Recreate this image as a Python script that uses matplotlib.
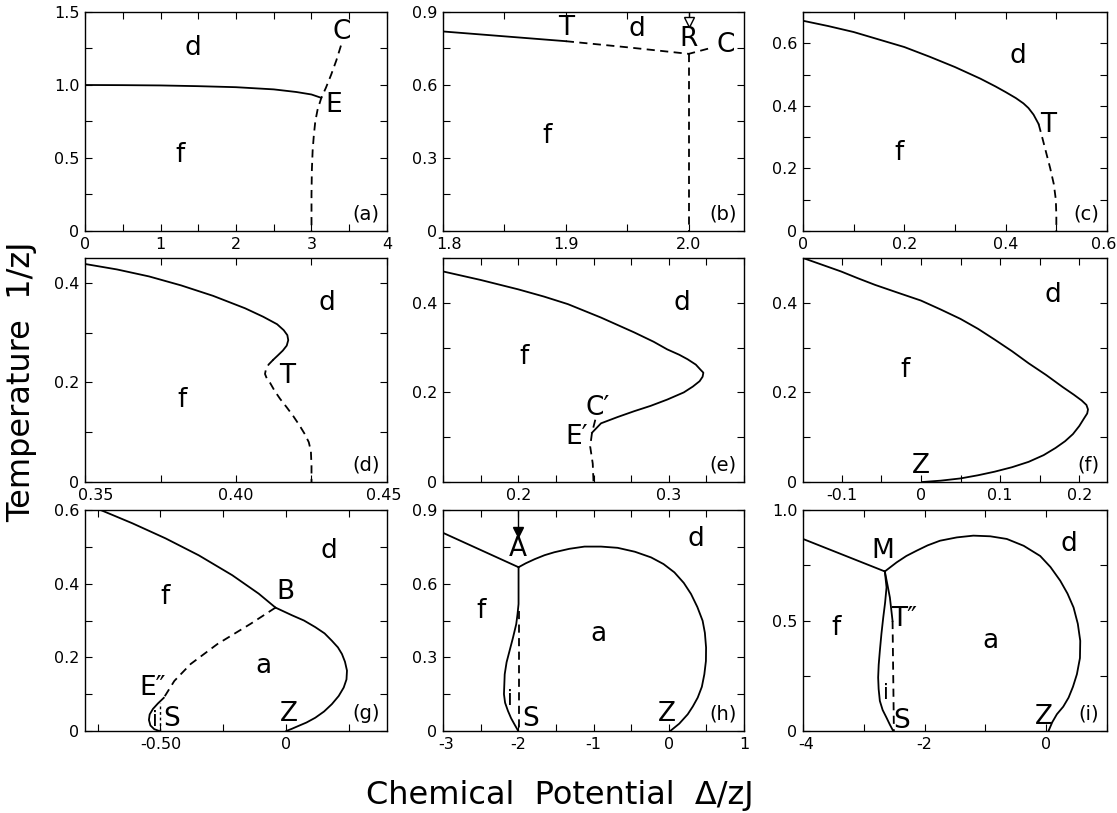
import matplotlib
matplotlib.use('Agg')
import matplotlib.pyplot as plt
import matplotlib.transforms as mtransforms
from matplotlib.ticker import FixedLocator, FixedFormatter

# ---------------- data ----------------
# panel (a)
A_XTICKS = [0, 0.5, 1, 1.5, 2, 2.5, 3, 3.5, 4]
A_XLABELS = ['0', '', '1', '', '2', '', '3', '', '4']
A_YTICKS = [0, 0.25, 0.5, 0.75, 1.0, 1.25, 1.5]
A_YLABELS = ['0', '', '0.5', '', '1.0', '', '1.5']
a_solid_x = [0, 0.5, 1.0, 1.5, 2.0, 2.5, 2.8, 3.0, 3.13]
a_solid_y = [1.0, 0.999, 0.997, 0.992, 0.985, 0.97, 0.952, 0.935, 0.912]
a_dash_x = [3.39, 3.33, 3.26, 3.19, 3.13, 3.08, 3.05, 3.03, 3.015, 3.005, 3.0, 3.0]
a_dash_y = [1.27, 1.17, 1.07, 0.98, 0.912, 0.83, 0.75, 0.65, 0.55, 0.42, 0.25, 0.0]
a_text = [('d', 1.43, 1.25), ('f', 1.26, 0.52), ('C', 3.4, 1.36), ('E', 3.3, 0.86)]

# panel (b)
B_XTICKS = [1.8, 1.85, 1.9, 1.95, 2.0]
B_XLABELS = ['1.8', '', '1.9', '', '2.0']
B_YTICKS = [0, 0.15, 0.3, 0.45, 0.6, 0.75, 0.9]
B_YLABELS = ['0', '', '0.3', '', '0.6', '', '0.9']
b_solid_x = [1.8, 1.85, 1.9]
b_solid_y = [0.82, 0.80, 0.78]
b_dash_x = [1.9, 1.95, 2.0, 2.02]
b_dash_y = [0.78, 0.755, 0.728, 0.755]
b_vert_x = [2.0, 2.0]
b_vert_y = [0.728, 0.0]
b_arrow = (2.0, 0.857)
b_text = [('T', 1.9, 0.835), ('d', 1.958, 0.83), ('R', 2.0, 0.79), ('C', 2.03, 0.765), ('f', 1.885, 0.39)]

# panel (c)
C_XTICKS = [0, 0.1, 0.2, 0.3, 0.4, 0.5, 0.6]
C_XLABELS = ['0', '', '0.2', '', '0.4', '', '0.6']
C_YTICKS = [0, 0.1, 0.2, 0.3, 0.4, 0.5, 0.6, 0.7]
C_YLABELS = ['0', '', '0.2', '', '0.4', '', '0.6', '']
c_solid_x = [0, 0.05, 0.1, 0.15, 0.2, 0.25, 0.3, 0.35, 0.38, 0.4, 0.42, 0.435, 0.445, 0.455, 0.465]
c_solid_y = [0.672, 0.655, 0.636, 0.612, 0.588, 0.557, 0.524, 0.487, 0.462, 0.444, 0.425, 0.408, 0.393, 0.372, 0.342]
c_dash_x = [0.465, 0.472, 0.48, 0.488, 0.495, 0.499, 0.5, 0.5]
c_dash_y = [0.342, 0.30, 0.25, 0.20, 0.15, 0.10, 0.05, 0.0]
c_text = [('d', 0.425, 0.56), ('T', 0.483, 0.34), ('f', 0.19, 0.25)]

# panel (d)
D_XTICKS = [0.35, 0.375, 0.4, 0.425, 0.45]
D_XLABELS = ['0.35', '', '0.40', '', '0.45']
D_YTICKS = [0, 0.1, 0.2, 0.3, 0.4]
D_YLABELS = ['0', '', '0.2', '', '0.4']
d_solid_x = [0.35, 0.3606, 0.3712, 0.3818, 0.3924, 0.403, 0.409, 0.4136, 0.4158, 0.417, 0.4173, 0.4168, 0.4155, 0.4138, 0.4124]
d_solid_y = [0.438, 0.427, 0.413, 0.395, 0.374, 0.349, 0.332, 0.317, 0.305, 0.295, 0.285, 0.274, 0.264, 0.254, 0.246]
d_dash_x = [0.4124, 0.4108, 0.4099, 0.4096, 0.4102, 0.4113, 0.4128, 0.4146, 0.4168, 0.419, 0.421, 0.4228, 0.4241, 0.4248, 0.425, 0.425]
d_dash_y = [0.246, 0.236, 0.226, 0.217, 0.208, 0.199, 0.183, 0.167, 0.15, 0.132, 0.114, 0.096, 0.08, 0.062, 0.032, 0.0]
d_text = [('d', 0.43, 0.36), ('T', 0.4168, 0.213), ('f', 0.382, 0.164)]

# panel (e)
E_XTICKS = [0.15, 0.175, 0.2, 0.225, 0.25, 0.275, 0.3, 0.325, 0.35]
E_XLABELS = ['', '', '0.2', '', '', '', '0.3', '', '']
E_YTICKS = [0, 0.1, 0.2, 0.3, 0.4, 0.5]
E_YLABELS = ['0', '', '0.2', '', '0.4', '']
e_solid_x = [0.15, 0.175, 0.2, 0.217, 0.233, 0.255, 0.277, 0.29, 0.299, 0.307, 0.3125, 0.318, 0.321, 0.323,
             0.3225, 0.3205, 0.316, 0.31, 0.299, 0.288, 0.277, 0.266, 0.255, 0.249]
e_solid_y = [0.47, 0.451, 0.43, 0.414, 0.397, 0.367, 0.334, 0.313, 0.296, 0.284, 0.274, 0.262, 0.251, 0.244,
             0.235, 0.225, 0.213, 0.2, 0.184, 0.17, 0.158, 0.145, 0.131, 0.11]
e_dash_x = [0.2512, 0.249, 0.2478, 0.2495, 0.25]
e_dash_y = [0.139, 0.11, 0.079, 0.041, 0.0]
e_text = [('C\u2032', 0.2525, 0.165), ('E\u2032', 0.239, 0.1), ('f', 0.204, 0.28), ('d', 0.309, 0.4)]

# panel (f)
F_XTICKS = [-0.1, -0.05, 0, 0.05, 0.1, 0.15, 0.2]
F_XLABELS = ['-0.1', '', '0', '', '0.1', '', '0.2']
F_YTICKS = [0, 0.1, 0.2, 0.3, 0.4, 0.5]
F_YLABELS = ['0', '', '0.2', '', '0.4', '']
f_solid_x = [-0.149, -0.125, -0.101, -0.08, -0.058, -0.03, 0.0, 0.025, 0.05, 0.072, 0.093, 0.115, 0.136, 0.158,
             0.179, 0.193, 0.203, 0.209, 0.211, 0.21, 0.206, 0.2, 0.192, 0.182, 0.17, 0.155, 0.136, 0.115,
             0.093, 0.072, 0.05, 0.025, 0.002]
f_solid_y = [0.5, 0.485, 0.47, 0.455, 0.44, 0.423, 0.405, 0.385, 0.364, 0.342, 0.318, 0.292, 0.265, 0.239,
             0.212, 0.195, 0.182, 0.172, 0.162, 0.153, 0.142, 0.125, 0.107, 0.091, 0.076, 0.06, 0.045, 0.033,
             0.023, 0.015, 0.008, 0.003, 0.0]
f_text = [('Z', 0.0, 0.036), ('f', -0.02, 0.25), ('d', 0.166, 0.417)]

# panel (g)
G_XTICKS = [-0.75, -0.5, -0.25, 0, 0.25]
G_XLABELS = ['', '-0.50', '', '0', '']
G_YTICKS = [0, 0.1, 0.2, 0.3, 0.4, 0.5, 0.6]
G_YLABELS = ['0', '', '0.2', '', '0.4', '', '0.6']
g_top_x = [-0.738, -0.612, -0.48, -0.348, -0.215, -0.11, -0.043]
g_top_y = [0.6, 0.564, 0.523, 0.477, 0.423, 0.373, 0.335]
g_right_x = [-0.043, 0.023, 0.07, 0.115, 0.152, 0.181, 0.205, 0.221, 0.233, 0.241, 0.239, 0.228, 0.208, 0.181,
             0.15, 0.115, 0.08, 0.049, 0.022, 0.0]
g_right_y = [0.335, 0.314, 0.3, 0.282, 0.265, 0.245, 0.227, 0.209, 0.188, 0.164, 0.14, 0.118, 0.095, 0.073,
             0.053, 0.036, 0.023, 0.014, 0.006, 0.0]
g_dash_x = [-0.043, -0.142, -0.274, -0.38, -0.445, -0.487]
g_dash_y = [0.335, 0.291, 0.236, 0.182, 0.136, 0.09]
g_loop_x = [-0.487, -0.51, -0.53, -0.543, -0.546, -0.54, -0.525, -0.505]
g_loop_y = [0.09, 0.075, 0.06, 0.045, 0.03, 0.015, 0.005, 0.0]
g_vert_x = [-0.5, -0.5]
g_vert_y = [0.0, 0.075]
g_text = [('d', 0.168, 0.49), ('B', -0.005, 0.377), ('f', -0.481, 0.364), ('a', -0.09, 0.177),
          ('E\u2033', -0.53, 0.118), ('S', -0.455, 0.032), ('Z', 0.01, 0.047)]
g_small = [('i', -0.522, 0.03)]

# panel (h)
H_XTICKS = [-3, -2.5, -2, -1.5, -1, -0.5, 0, 0.5, 1]
H_XLABELS = ['-3', '', '-2', '', '-1', '', '0', '', '1']
H_YTICKS = [0, 0.15, 0.3, 0.45, 0.6, 0.75, 0.9]
H_YLABELS = ['0', '', '0.3', '', '0.6', '', '0.9']
h_left_x = [-3.0, -1.996]
h_left_y = [0.807, 0.667]
h_right_x = [-1.996, -1.9, -1.78, -1.65, -1.52, -1.32, -1.12, -0.9, -0.68, -0.45, -0.235, -0.07, 0.075, 0.2,
             0.296, 0.38, 0.45, 0.48, 0.496, 0.494, 0.473, 0.44, 0.385, 0.32, 0.252, 0.14, 0.02]
h_right_y = [0.667, 0.683, 0.70, 0.716, 0.728, 0.742, 0.751, 0.751, 0.746, 0.73, 0.707, 0.68, 0.646, 0.603,
             0.558, 0.505, 0.449, 0.4, 0.34, 0.285, 0.231, 0.18, 0.136, 0.1, 0.068, 0.03, 0.0]
h_i_x = [-1.996, -1.996, -2.01, -2.027, -2.07, -2.115, -2.155, -2.18, -2.19, -2.175, -2.137, -2.095, -2.05, -2.0]
h_i_y = [0.667, 0.517, 0.475, 0.435, 0.38, 0.327, 0.28, 0.231, 0.15, 0.115, 0.082, 0.052, 0.027, 0.0]
h_vert_x = [-1.996, -1.996]
h_vert_y = [0.49, 0.0]
h_arrow = (-2.0, 0.81)
h_text = [('A', -2.0, 0.741), ('d', 0.363, 0.782), ('f', -2.49, 0.49), ('a', -0.94, 0.395),
          ('S', -1.83, 0.048), ('Z', -0.02, 0.068)]
h_small = [('i', -2.115, 0.129)]

# panel (i)
I_XTICKS = [-4, -3, -2, -1, 0, 1]
I_XLABELS = ['-4', '', '-2', '', '0', '']
I_YTICKS = [0, 0.25, 0.5, 0.75, 1.0]
I_YLABELS = ['0', '', '0.5', '', '1.0']
i_left_x = [-4.0, -2.654]
i_left_y = [0.869, 0.722]
i_right_x = [-2.654, -2.46, -2.3, -2.13, -1.95, -1.747, -1.47, -1.198, -0.92, -0.648, -0.37, -0.099, 0.07,
             0.231, 0.35, 0.45, 0.52, 0.56, 0.555, 0.505, 0.44, 0.368, 0.28, 0.176, 0.1, 0.038]
i_right_y = [0.722, 0.763, 0.792, 0.816, 0.84, 0.861, 0.876, 0.884, 0.881, 0.869, 0.838, 0.792, 0.742,
             0.68, 0.622, 0.559, 0.485, 0.408, 0.33, 0.257, 0.2, 0.151, 0.11, 0.076, 0.04, 0.0]
i_i_x = [-2.654, -2.626, -2.65, -2.68, -2.71, -2.736, -2.755, -2.764, -2.756, -2.736, -2.69, -2.626, -2.57, -2.516]
i_i_y = [0.722, 0.65, 0.58, 0.514, 0.44, 0.363, 0.3, 0.242, 0.19, 0.136, 0.095, 0.06, 0.028, 0.0]
i_t_x = [-2.654, -2.61, -2.571, -2.527]
i_t_y = [0.722, 0.66, 0.604, 0.498]
i_vert_x = [-2.527, -2.505]
i_vert_y = [0.498, 0.0]
i_text = [('M', -2.68, 0.816), ('T\u2033', -2.33, 0.506), ('f', -3.45, 0.468), ('a', -0.923, 0.408),
          ('d', 0.368, 0.846), ('S', -2.38, 0.045), ('Z', -0.04, 0.062)]
i_small = [('i', -2.63, 0.174)]

# ---------------- layout ----------------
W, H = 1117, 813
fig = plt.figure(figsize=(W / 100, H / 100), dpi=100)
cols = [(85, 387), (443, 744), (803, 1107)]
rows = [(12, 231), (258, 482), (510, 731)]
LW = 1.3
DASH = (0, (4.5, 3))
LETTER = dict(fontsize=19, ha='center', va='center')
SMALL = dict(fontsize=15, ha='center', va='center')


def shift_label(ax, idx, dx_px, dy_px=0, axis='x'):
    ticks = (ax.xaxis if axis == 'x' else ax.yaxis).get_major_ticks()
    lab = ticks[idx].label1
    lab.set_transform(lab.get_transform() +
                      mtransforms.ScaledTranslation(dx_px / 100, dy_px / 100, fig.dpi_scale_trans))


def make_ax(r, c, xlim, ylim, xt, xl, yt, yl, tag):
    l, rr = cols[c]
    t, b = rows[r]
    ax = fig.add_axes([l / W, 1 - b / H, (rr - l) / W, (b - t) / H])
    ax.set_xlim(*xlim)
    ax.set_ylim(*ylim)
    ax.xaxis.set_major_locator(FixedLocator(xt))
    ax.xaxis.set_major_formatter(FixedFormatter(xl))
    ax.yaxis.set_major_locator(FixedLocator(yt))
    ax.yaxis.set_major_formatter(FixedFormatter(yl))
    ax.tick_params(direction='in', top=True, right=True, length=5, width=0.8,
                   labelsize=11.5, pad=4)
    for s in ax.spines.values():
        s.set_linewidth(1.0)
    ax.text(0.975, 0.035, tag, transform=ax.transAxes, ha='right', va='bottom', fontsize=14)
    return ax


def labels(ax, items, style=LETTER):
    for s, x, y in items:
        ax.text(x, y, s, **style)


# (a)
ax = make_ax(0, 0, (0, 4), (0, 1.5), A_XTICKS, A_XLABELS, A_YTICKS, A_YLABELS, '(a)')
ax.plot(a_solid_x, a_solid_y, color='k', lw=LW)
ax.plot(a_dash_x, a_dash_y, color='k', lw=LW, linestyle=DASH)
labels(ax, a_text)

# (b)
ax = make_ax(0, 1, (1.8, 2.045), (0, 0.9), B_XTICKS, B_XLABELS, B_YTICKS, B_YLABELS, '(b)')
ax.plot(b_solid_x, b_solid_y, color='k', lw=LW)
ax.plot(b_dash_x, b_dash_y, color='k', lw=LW, linestyle=DASH)
ax.plot(b_vert_x, b_vert_y, color='k', lw=LW, linestyle=DASH)
ax.plot([b_arrow[0], b_arrow[0]], [0.9, b_arrow[1] + 0.01], color='k', lw=1.0)
ax.plot([b_arrow[0]], [b_arrow[1]], marker='v', ms=7, mfc='white', mec='k', mew=1.0)
labels(ax, b_text)
shift_label(ax, 0, 6)

# (c)
ax = make_ax(0, 2, (0, 0.6), (0, 0.7), C_XTICKS, C_XLABELS, C_YTICKS, C_YLABELS, '(c)')
ax.plot(c_solid_x, c_solid_y, color='k', lw=LW)
ax.plot(c_dash_x, c_dash_y, color='k', lw=LW, linestyle=DASH)
labels(ax, c_text)
shift_label(ax, len(C_XTICKS) - 1, -3)

# (d)
ax = make_ax(1, 0, (0.35, 0.45), (0, 0.45), D_XTICKS, D_XLABELS, D_YTICKS, D_YLABELS, '(d)')
ax.plot(d_solid_x, d_solid_y, color='k', lw=LW)
ax.plot(d_dash_x, d_dash_y, color='k', lw=LW, linestyle=DASH)
labels(ax, d_text)
shift_label(ax, 0, 11)
shift_label(ax, len(D_XTICKS) - 1, -3)

# (e)
ax = make_ax(1, 1, (0.15, 0.35), (0, 0.5), E_XTICKS, E_XLABELS, E_YTICKS, E_YLABELS, '(e)')
ax.plot(e_solid_x, e_solid_y, color='k', lw=LW)
ax.plot(e_dash_x, e_dash_y, color='k', lw=LW, linestyle=DASH)
labels(ax, e_text)

# (f)
ax = make_ax(1, 2, (-0.149, 0.235), (0, 0.5), F_XTICKS, F_XLABELS, F_YTICKS, F_YLABELS, '(f)')
ax.plot(f_solid_x, f_solid_y, color='k', lw=LW)
labels(ax, f_text)

# (g)
ax = make_ax(2, 0, (-0.8, 0.4), (0, 0.6), G_XTICKS, G_XLABELS, G_YTICKS, G_YLABELS, '(g)')
ax.plot(g_top_x, g_top_y, color='k', lw=LW)
ax.plot(g_right_x, g_right_y, color='k', lw=LW)
ax.plot(g_dash_x, g_dash_y, color='k', lw=LW, linestyle=DASH)
ax.plot(g_loop_x, g_loop_y, color='k', lw=LW)
ax.plot(g_vert_x, g_vert_y, color='k', lw=1.0, linestyle=(0, (2, 2)))
labels(ax, g_text)
labels(ax, g_small, SMALL)

# (h)
ax = make_ax(2, 1, (-3, 1), (0, 0.9), H_XTICKS, H_XLABELS, H_YTICKS, H_YLABELS, '(h)')
ax.plot(h_left_x, h_left_y, color='k', lw=LW)
ax.plot(h_right_x, h_right_y, color='k', lw=LW)
ax.plot(h_i_x, h_i_y, color='k', lw=LW)
ax.plot(h_vert_x, h_vert_y, color='k', lw=LW, linestyle=DASH)
ax.plot([h_arrow[0], h_arrow[0]], [0.9, h_arrow[1] + 0.01], color='k', lw=1.0)
ax.plot([h_arrow[0]], [h_arrow[1]], marker='v', ms=7, mfc='k', mec='k')
labels(ax, h_text)
labels(ax, h_small, SMALL)
shift_label(ax, 0, 3)

# (i)
ax = make_ax(2, 2, (-4, 1), (0, 1.0), I_XTICKS, I_XLABELS, I_YTICKS, I_YLABELS, '(i)')
ax.plot(i_left_x, i_left_y, color='k', lw=LW)
ax.plot(i_right_x, i_right_y, color='k', lw=LW)
ax.plot(i_i_x, i_i_y, color='k', lw=LW)
ax.plot(i_t_x, i_t_y, color='k', lw=LW)
ax.plot(i_vert_x, i_vert_y, color='k', lw=LW, linestyle=DASH)
labels(ax, i_text)
labels(ax, i_small, SMALL)
shift_label(ax, 0, 3)

fig.text(22 / W, 1 - 382 / H, 'Temperature  1/zJ', rotation=90, ha='center', va='center', fontsize=23)
fig.text(560 / W, 1 - 795 / H, 'Chemical  Potential  \u0394/zJ', ha='center', va='center', fontsize=23)

fig.savefig('out.png', dpi=100)
